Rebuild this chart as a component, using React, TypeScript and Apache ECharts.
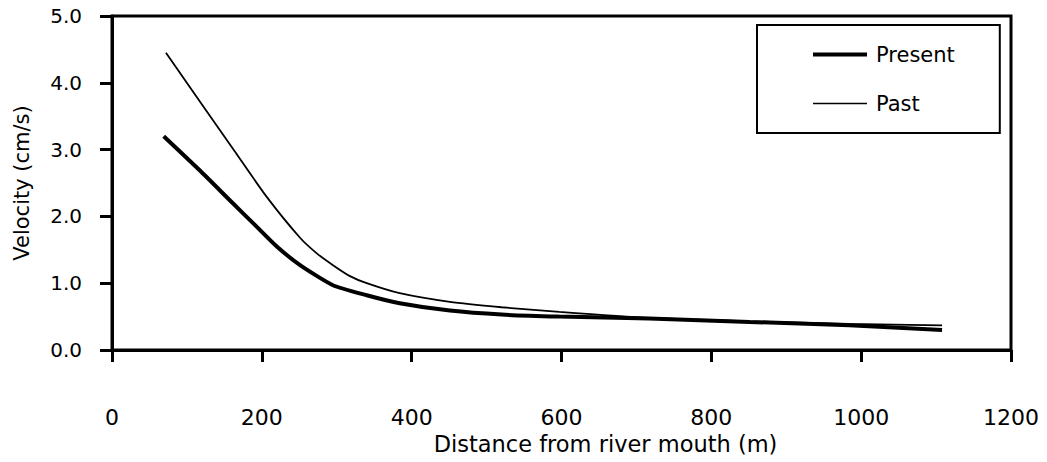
import React, { useEffect, useRef } from "react";
import * as echarts from "echarts";

const presentX = [69, 117, 161, 191, 220, 251, 295, 340, 384, 451, 520, 597, 717, 851, 984, 1108];
const presentY = [3.2, 2.69, 2.2, 1.87, 1.55, 1.27, 0.97, 0.82, 0.7, 0.59, 0.53, 0.5, 0.47, 0.42, 0.37, 0.3];
const pastX = [72, 164, 206, 251, 273, 295, 317, 340, 384, 451, 520, 597, 717, 851, 984, 1108];
const pastY = [4.45, 2.97, 2.3, 1.68, 1.45, 1.27, 1.11, 1.0, 0.85, 0.72, 0.64, 0.57, 0.48, 0.43, 0.39, 0.37];
const seriesNames = ["Present", "Past"];
const xTicks = [0, 200, 400, 600, 800, 1000, 1200];
const yTicks = [0, 1, 2, 3, 4, 5];

const FONT = "DejaVu Sans";

export default function App() {
  const ref = useRef<HTMLDivElement>(null);
  useEffect(() => {
    if (!ref.current) return;
    const chart = echarts.init(ref.current, undefined, { renderer: "svg" });
    const zip = (xs: number[], ys: number[]) => xs.map((x, i) => [x, ys[i]]);
    chart.setOption({
      animation: false,
      backgroundColor: "#fff",
      grid: {
        left: 112,
        top: 16,
        right: 36,
        bottom: 112,
        containLabel: false,
        outerBoundsMode: "none",
        show: true,
        borderColor: "#000",
        borderWidth: 3,
      },
      legend: {
        left: 757,
        top: 25,
        orient: "vertical",
        data: [
          { name: seriesNames[0], icon: "path://M0,0 M0,5 L54,5 L54,9 L0,9 Z M54,14" },
          { name: seriesNames[1], icon: "path://M0,0 M0,6.2 L54,6.2 L54,7.8 L0,7.8 Z M54,14" },
        ],
        itemWidth: 54,
        itemHeight: 14,
        itemGap: 28,
        padding: [19, 45, 19, 56],
        borderColor: "#000",
        borderWidth: 2,
        backgroundColor: "#fff",
        itemStyle: { color: "#000", borderWidth: 0 },
        textStyle: { fontFamily: FONT, fontSize: 21, color: "#000", padding: [0, 0, 0, 4] },
      },
      xAxis: {
        type: "value",
        min: xTicks[0],
        max: xTicks[xTicks.length - 1],
        interval: 200,
        name: "Distance from river mouth (m)",
        nameLocation: "middle",
        nameGap: 78,
        nameTextStyle: { fontFamily: FONT, fontSize: 22.5, color: "#000", padding: [0, 0, 0, 88] },
        axisLine: { show: true, lineStyle: { color: "#000", width: 3 } },
        axisTick: { show: true, length: 12, lineStyle: { color: "#000", width: 3 } },
        axisLabel: {
          margin: 56,
          fontFamily: FONT,
          fontSize: 22,
          color: "#000",
          formatter: (v: number) => String(v),
        },
        splitLine: { show: false },
      },
      yAxis: {
        type: "value",
        min: yTicks[0],
        max: yTicks[yTicks.length - 1],
        interval: 1,
        name: "Velocity (cm/s)",
        nameLocation: "middle",
        nameGap: 80,
        nameTextStyle: { fontFamily: FONT, fontSize: 21, color: "#000" },
        axisLine: { show: true, lineStyle: { color: "#000", width: 3 } },
        axisTick: { show: true, length: 12, lineStyle: { color: "#000", width: 3 } },
        axisLabel: {
          margin: 30,
          fontFamily: FONT,
          fontSize: 20,
          color: "#000",
          formatter: (v: number) => v.toFixed(1),
        },
        splitLine: { show: false },
      },
      series: [
        {
          name: seriesNames[0],
          type: "line",
          data: zip(presentX, presentY),
          symbol: "none",
          smooth: 0.2,
          lineStyle: { color: "#000", width: 4 },
          itemStyle: { color: "#000" },
        },
        {
          name: seriesNames[1],
          type: "line",
          data: zip(pastX, pastY),
          symbol: "none",
          smooth: 0.2,
          lineStyle: { color: "#000", width: 1.8 },
          itemStyle: { color: "#000" },
        },
      ],
    });
    return () => chart.dispose();
  }, []);
  return (
    <div
      ref={ref}
      style={{ position: "fixed", left: 0, top: 0, width: 1047, height: 462 }}
    />
  );
}
